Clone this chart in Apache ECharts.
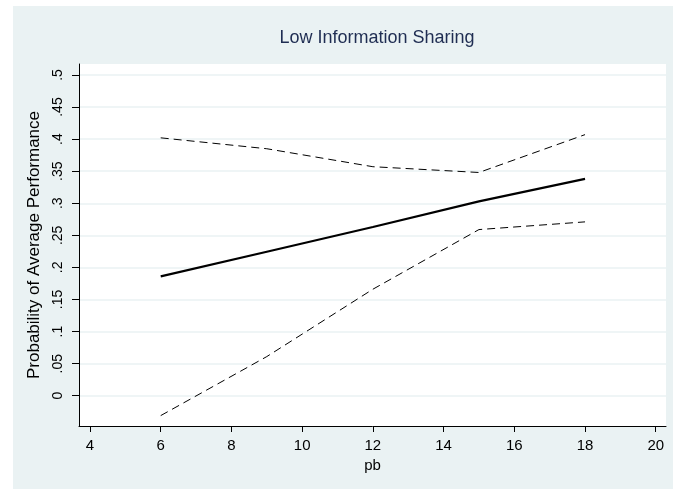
<!DOCTYPE html>
<html>
<head>
<meta charset="utf-8">
<script src="https://cdn.jsdelivr.net/npm/echarts@6/dist/echarts.min.js"></script>
<style>
html,body{margin:0;padding:0;background:#fff;}
#chart{width:673px;height:489px;}
</style>
</head>
<body>
<div id="chart"></div>
<script>
var titleText = 'Low Information Sharing';
var xName = 'pb';
var yName = 'Probability of Average Performance';
var xValues = [6, 9, 12, 15, 18];
var fitted = [0.186, 0.2245, 0.263, 0.303, 0.338];
var upperCI = [0.402, 0.385, 0.357, 0.348, 0.407];
var lowerCI = [-0.031, 0.061, 0.166, 0.259, 0.271];
var xTicks = [4, 6, 8, 10, 12, 14, 16, 18, 20];
var yTicks = [0, 0.05, 0.1, 0.15, 0.2, 0.25, 0.3, 0.35, 0.4, 0.45, 0.5];

function pairs(ys){ return xValues.map(function(x,i){ return [x, ys[i]]; }); }
function fmtY(v){
  if (Math.abs(v) < 1e-9) return '0';
  return String(+v.toFixed(2)).replace(/^0\./, '.');
}

var chart = echarts.init(document.getElementById('chart'), null, {renderer:'canvas'});
var FONT = '"Liberation Sans", Arial, sans-serif';
chart.setOption({
  animation: false,
  backgroundColor: '#ffffff',
  graphic: [{
    type: 'rect', z: -10, silent: true,
    shape: {x: 13, y: 6, width: 673 - 13, height: 489 - 6},
    style: {fill: '#EAF2F3'}
  }],
  title: {
    text: titleText, left: 372, top: 24, textAlign: 'center',
    textStyle: {color: '#1f2d52', fontSize: 18, fontWeight: 'normal', fontFamily: FONT}
  },
  grid: {left: 79, top: 64, right: 7, bottom: 63, show: true, backgroundColor: '#ffffff', borderWidth: 0},
  xAxis: {
    type: 'value', min: 3.689, max: 20.29,
    name: xName, nameLocation: 'middle', nameGap: 26,
    nameTextStyle: {color: '#000', fontSize: 15, fontFamily: FONT},
    axisLine: {show: true, onZero: false, lineStyle: {color: '#000', width: 1}},
    axisTick: {show: true, length: 6, customValues: xTicks, lineStyle: {color: '#000'}},
    axisLabel: {customValues: xTicks, color: '#000', fontSize: 15, margin: 12, fontFamily: FONT},
    splitLine: {show: false}
  },
  yAxis: {
    type: 'value', min: -0.0472, max: 0.5171,
    name: yName, nameLocation: 'middle', nameGap: 31, nameRotate: 90,
    nameTextStyle: {color: '#000', fontSize: 17, fontFamily: FONT},
    axisLine: {show: true, onZero: false, lineStyle: {color: '#000', width: 1}},
    axisTick: {show: true, length: 7, customValues: yTicks, lineStyle: {color: '#000'}},
    axisLabel: {customValues: yTicks, rotate: 90, color: '#000', fontSize: 14, margin: 14, fontFamily: FONT, formatter: fmtY},
    splitLine: {show: true, lineStyle: {color: '#EAF2F3', width: 1.5}}
  },
  series: [
    {type: 'line', data: pairs(fitted), symbol: 'none', lineStyle: {color: '#000', width: 2.2}},
    {type: 'line', data: pairs(upperCI), symbol: 'none', lineStyle: {color: '#000', width: 1, type: [8, 5]}},
    {type: 'line', data: pairs(lowerCI), symbol: 'none', lineStyle: {color: '#000', width: 1, type: [8, 5]}}
  ]
});
</script>
</body>
</html>
